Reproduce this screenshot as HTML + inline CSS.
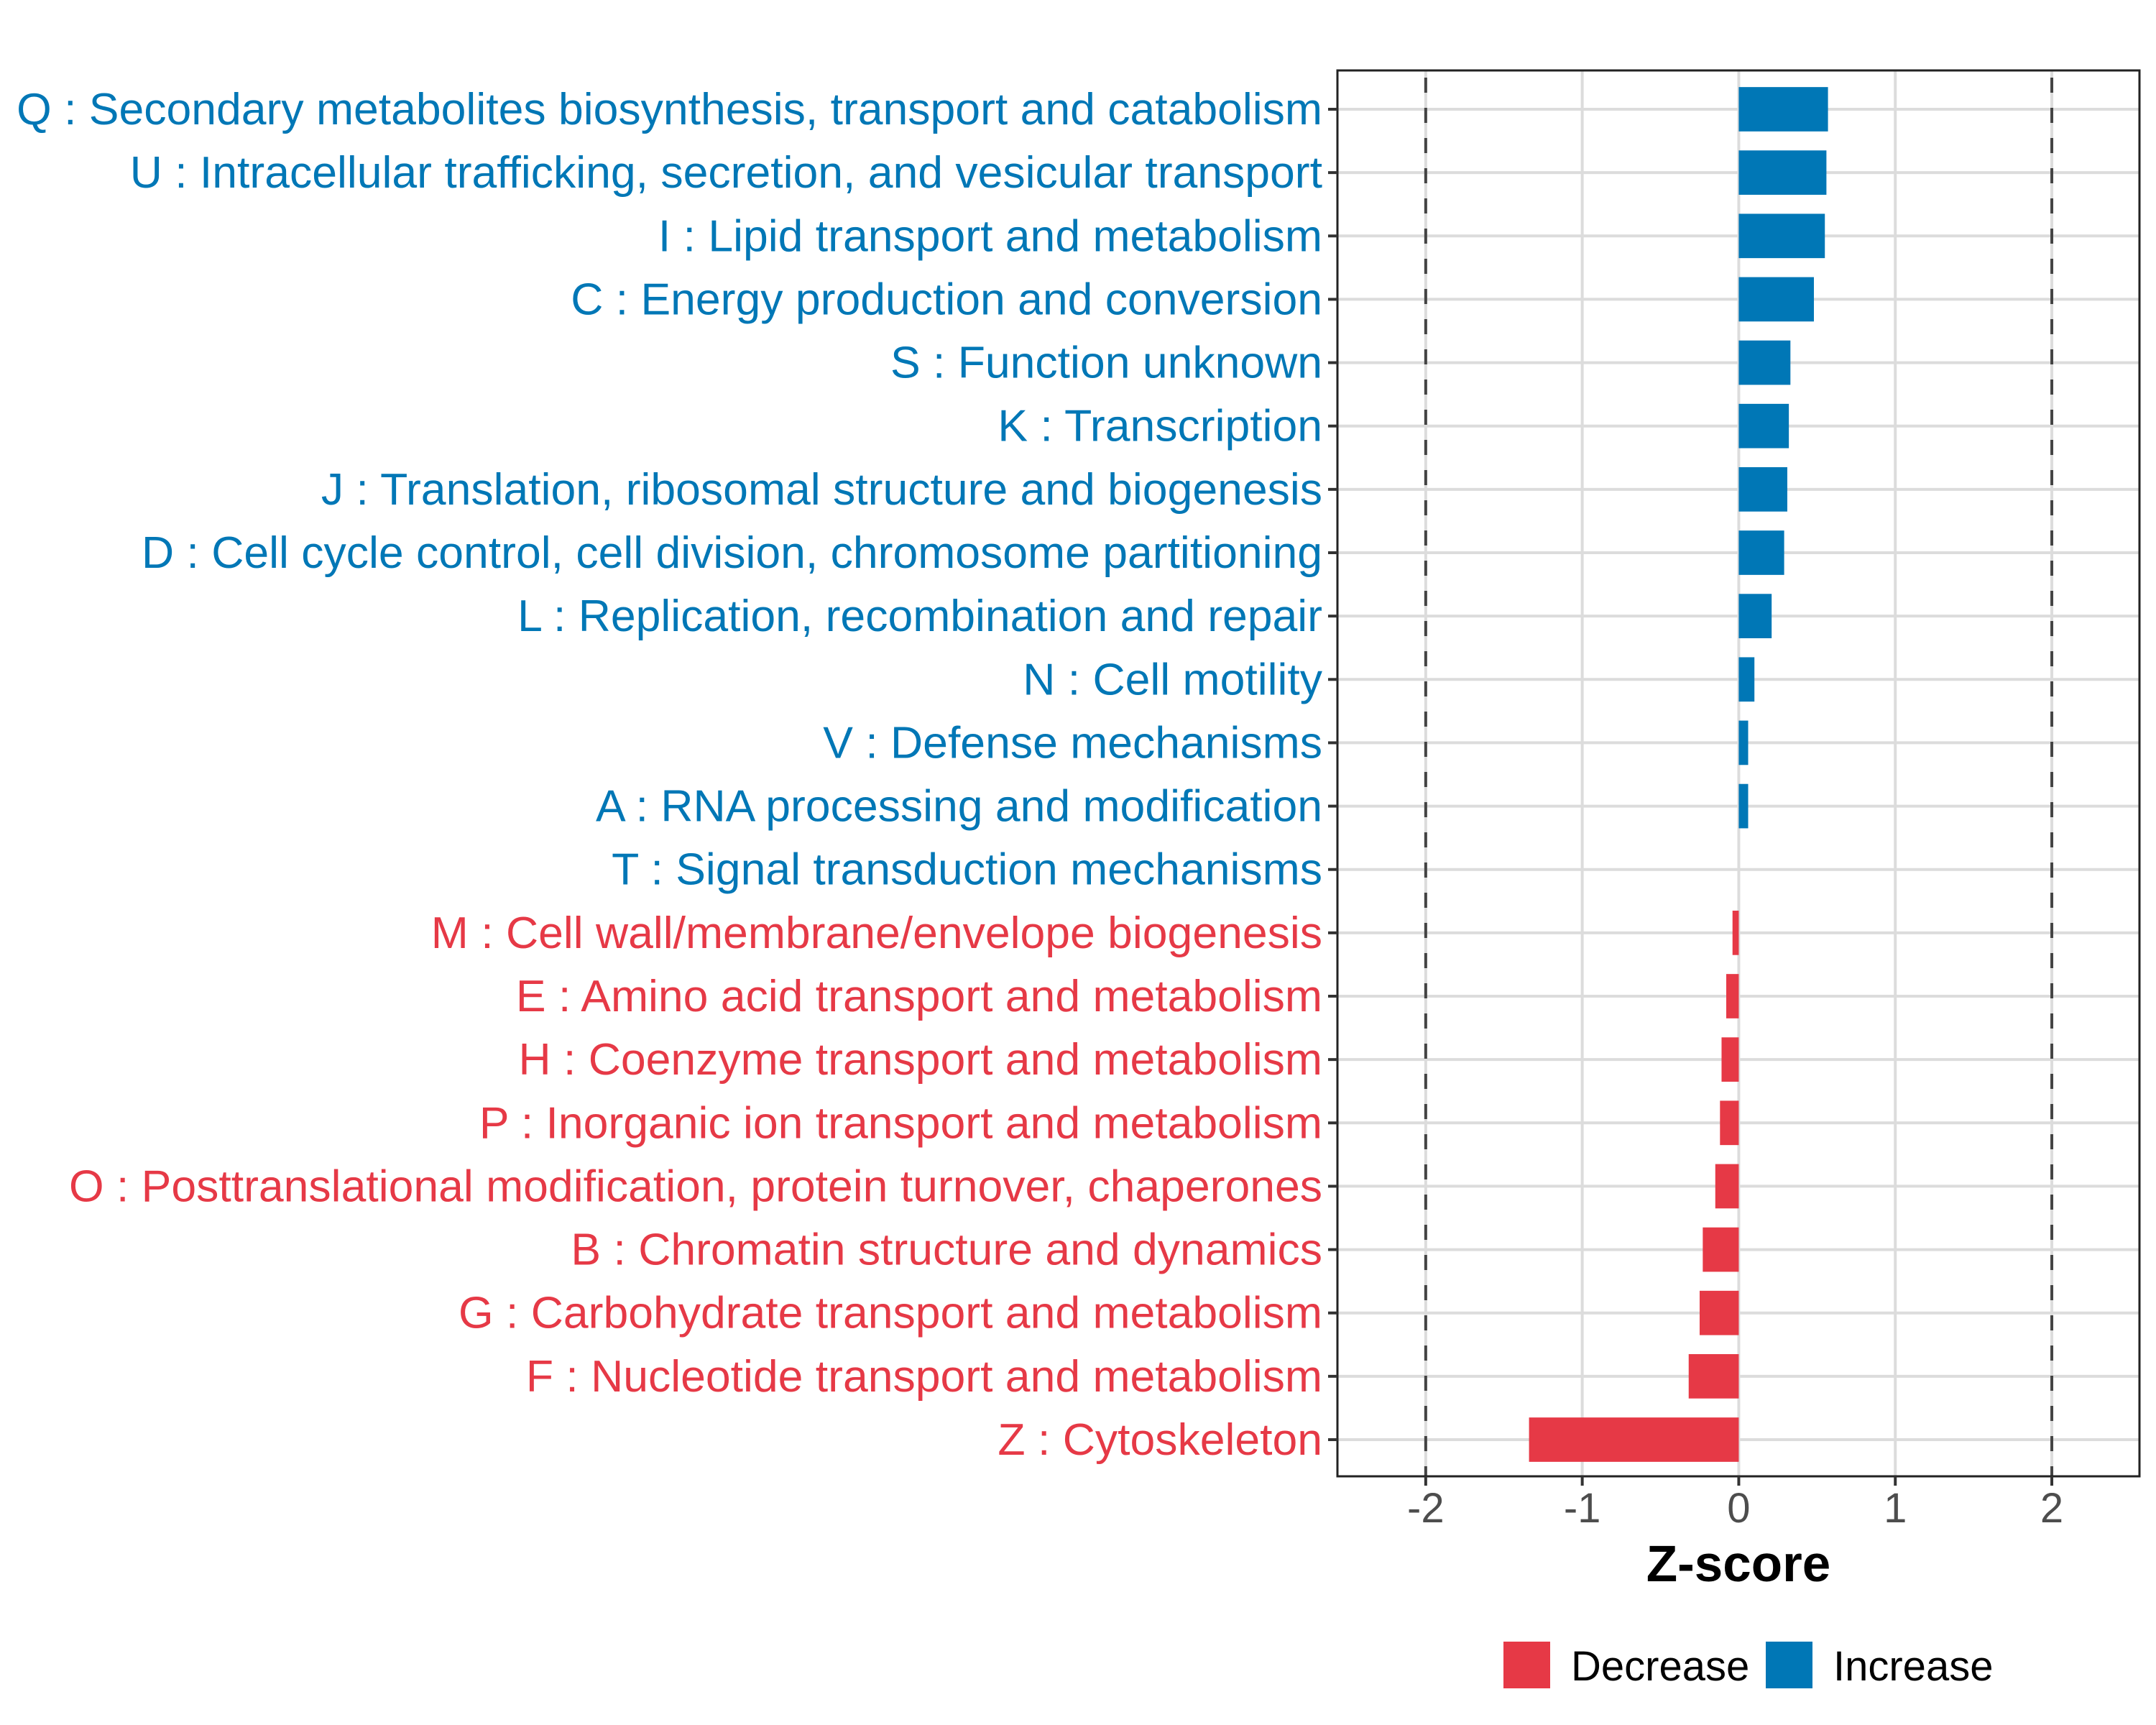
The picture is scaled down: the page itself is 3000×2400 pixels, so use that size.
<!DOCTYPE html>
<html><head><meta charset="utf-8"><style>
html,body{margin:0;padding:0;background:#fff;}
svg{display:block;font-family:"Liberation Sans",sans-serif;}
</style></head><body>
<svg id="chart" width="3000" height="2400" viewBox="0 0 3000 2400" xmlns="http://www.w3.org/2000/svg">
<rect x="0" y="0" width="3000" height="2400" fill="#fff"/>
<g id="grid"></g>
<g id="bars"></g>
<g id="refs"></g>
<rect x="1861" y="98" width="1116" height="1956" fill="none" stroke="#222" stroke-width="3"/>
<g id="ylabels"></g>
<g id="xticks"></g>
<text x="2419" y="2200" text-anchor="middle" font-size="71" font-weight="bold" fill="#000">Z-score</text>
<g>
<rect x="2092" y="2284" width="65" height="65" fill="#e63946"/>
<text x="2186" y="2338" font-size="58" fill="#000">Decrease</text>
<rect x="2457" y="2284" width="65" height="65" fill="#0077b6"/>
<text x="2551" y="2338" font-size="58" fill="#000">Increase</text>
</g>
</svg>
<script>
const categories = ["Q : Secondary metabolites biosynthesis, transport and catabolism","U : Intracellular trafficking, secretion, and vesicular transport","I : Lipid transport and metabolism","C : Energy production and conversion","S : Function unknown","K : Transcription","J : Translation, ribosomal structure and biogenesis","D : Cell cycle control, cell division, chromosome partitioning","L : Replication, recombination and repair","N : Cell motility","V : Defense mechanisms","A : RNA processing and modification","T : Signal transduction mechanisms","M : Cell wall/membrane/envelope biogenesis","E : Amino acid transport and metabolism","H : Coenzyme transport and metabolism","P : Inorganic ion transport and metabolism","O : Posttranslational modification, protein turnover, chaperones","B : Chromatin structure and dynamics","G : Carbohydrate transport and metabolism","F : Nucleotide transport and metabolism","Z : Cytoskeleton"];
const zscores = [0.57,0.56,0.55,0.48,0.33,0.32,0.31,0.29,0.21,0.10,0.06,0.06,0.0,-0.04,-0.08,-0.11,-0.12,-0.15,-0.23,-0.25,-0.32,-1.34];
const directions = ["Increase","Increase","Increase","Increase","Increase","Increase","Increase","Increase","Increase","Increase","Increase","Increase","Increase","Decrease","Decrease","Decrease","Decrease","Decrease","Decrease","Decrease","Decrease","Decrease"];
const xTicks = [-2,-1,0,1,2];
const xTickLabels = ["-2","-1","0","1","2"];
const refValues = [-2,2];

const NS="http://www.w3.org/2000/svg";
const PL=1861, PR=2977, PT=98, PB=2054;
const XMIN=-2.564, XMAX=2.56;
function xs(v){return PL+(v-XMIN)/(XMAX-XMIN)*(PR-PL);}
const rowStep=(2003-152)/(categories.length-1);
function ys(i){return 152+i*rowStep;}
const colors={Increase:"#0077b6",Decrease:"#e63946"};
function mk(tag,attrs,parent){const e=document.createElementNS(NS,tag);for(const k in attrs)e.setAttribute(k,attrs[k]);parent.appendChild(e);return e;}
const grid=document.getElementById('grid'),bars=document.getElementById('bars'),refs=document.getElementById('refs'),yl=document.getElementById('ylabels'),xt=document.getElementById('xticks');
xTicks.forEach((t,i)=>{
  const l=mk('line',{x1:xs(t),x2:xs(t),y1:PT,y2:PB,stroke:'#dcdcdc','stroke-width':4},grid);
  
  
  const tk=mk('line',{x1:xs(t),x2:xs(t),y1:PB,y2:PB+13,stroke:'#333','stroke-width':4},xt);
  
  
  const tx=mk('text',{x:xs(t),y:PB+64,'text-anchor':'middle','font-size':58,fill:'#4d4d4d'},xt);
  tx.textContent=xTickLabels[i];
  
  
});
categories.forEach((c,i)=>{
  const y=ys(i);
  const g=mk('line',{x1:PL,x2:PR,y1:y,y2:y,stroke:'#dcdcdc','stroke-width':4},grid);
  
  
  const v=zscores[i];
  const x0=xs(0),x1=xs(v);
  const bh=rowStep*0.7;
  const b=mk('rect',{x:Math.min(x0,x1),y:y-bh/2,width:Math.abs(x1-x0),height:bh,fill:colors[directions[i]]},bars);
  
  
  const tk=mk('line',{x1:PL-13,x2:PL,y1:y,y2:y,stroke:'#333','stroke-width':4},yl);
  
  
  const t=mk('text',{x:1840,y:y+21,'text-anchor':'end','font-size':62.5,fill:colors[directions[i]]},yl);
  t.textContent=c;
  
  
});
refValues.forEach(r=>{
  const l=mk('line',{x1:xs(r),x2:xs(r),y1:PT,y2:PB,stroke:'#444','stroke-width':4,'stroke-dasharray':'21 21','stroke-dashoffset':'-10'},refs);
  
  
});
</script>
</body></html>
